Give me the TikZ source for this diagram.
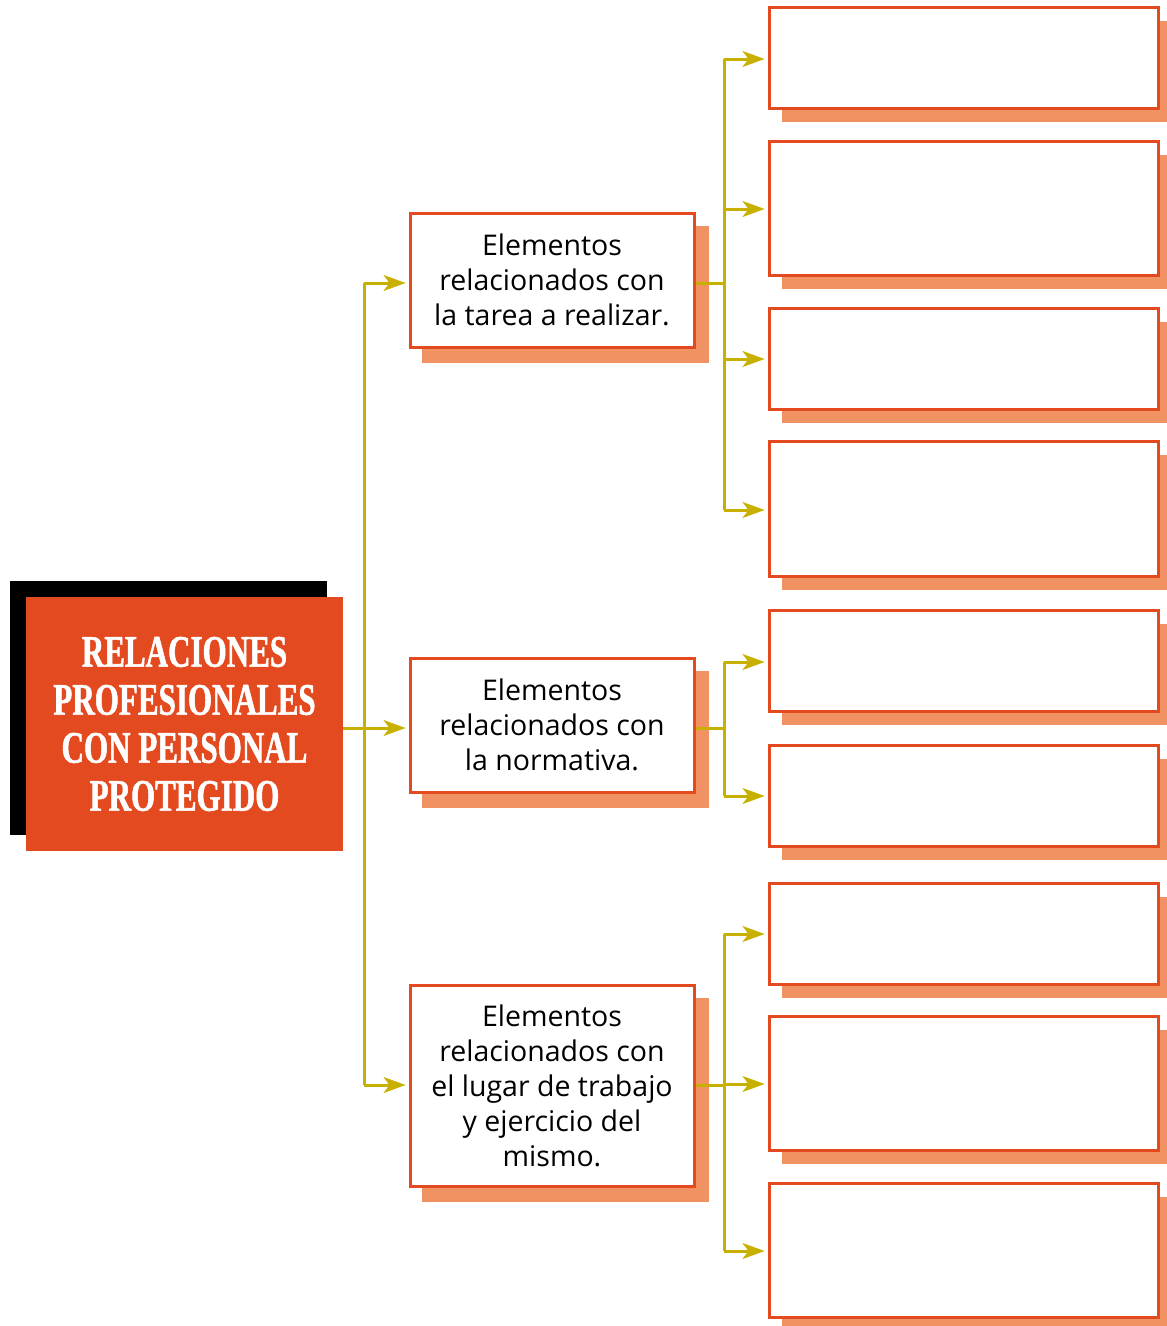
\documentclass[tikz,border=0pt]{standalone}
\usepackage{fontspec}
\setmainfont{Open Sans}
\newfontfamily\titlefont[FakeStretch=0.69,FakeBold=1.2]{Liberation Serif}
\usetikzlibrary{arrows.meta}
\definecolor{boxorange}{HTML}{E34A20}
\definecolor{shadoworange}{HTML}{F09262}
\definecolor{arrowolive}{HTML}{C8B000}
\tikzset{
  box/.style={draw=boxorange, line width=3pt, fill=white, inner sep=0pt, minimum width=#1},
  box/.default=284pt,
  midtext/.style={align=center, font=\fontsize{28.5}{35}\selectfont},
  conn/.style={draw=arrowolive, line width=3pt},
  arr/.style={conn, -{Stealth[length=22pt,width=16pt,inset=6pt,fill=arrowolive,line width=0.5pt]}},
}
\newcommand{\shadowof}[1]{\fill[shadoworange] ([shift={(13,14)}]#1.south west) rectangle ([shift={(13,14)}]#1.north east);}
\begin{document}
\begin{tikzpicture}[x=1pt,y=-1pt]
\useasboundingbox (0,0) rectangle (1167,1326);

% title
\fill[black] (10,581) rectangle (327,835);
\node[fill=boxorange, minimum width=317pt, minimum height=254pt, inner sep=0pt,
  text=white, align=center, font=\titlefont\bfseries\fontsize{45}{48}\selectfont] (title) at (184.5,724)
  {RELACIONES\\PROFESIONALES\\CON PERSONAL\\PROTEGIDO};

% middle boxes (shadow first)
\coordinate (m1c) at (552,280);
\coordinate (m2c) at (552,725);
\coordinate (m3c) at (552,1085.5);

\node[box, minimum height=134pt, draw=none, fill=none] (m1s) at (m1c) {};
\node[box, minimum height=134pt, draw=none, fill=none] (m2s) at (m2c) {};
\node[box, minimum height=201pt, draw=none, fill=none] (m3s) at (m3c) {};
\shadowof{m1s}
\shadowof{m2s}
\shadowof{m3s}
\node[box, minimum height=134pt, midtext] (m1) at (m1c) {Elementos\\relacionados con\\la tarea a realizar.};
\node[box, minimum height=134pt, midtext] (m2) at (m2c) {Elementos\\relacionados con\\la normativa.};
\node[box, minimum height=201pt, midtext] (m3) at (m3c) {Elementos\\relacionados con\\el lugar de trabajo\\y ejercicio del\\mismo.};

% right boxes
\foreach \n/\ya/\yb in {r1/7/108, r2/141/275, r3/308/409, r4/441/576, r5/610/711, r6/745/846, r7/883/984, r8/1016/1150, r9/1183/1317}{
  \fill[shadoworange] (782,\ya+14) rectangle (1171,\yb+14);
}
\foreach \n/\ya/\yb in {r1/7/108, r2/141/275, r3/308/409, r4/441/576, r5/610/711, r6/745/846, r7/883/984, r8/1016/1150, r9/1183/1317}{
  \pgfmathsetmacro{\h}{\yb-\ya}
  \node[box=389pt, minimum height=\h pt] (\n) at (963.5,{(\ya+\yb)/2}) {};
}

% connectors: title to middle boxes
\coordinate (t1) at (364,283);
\coordinate (t2) at (364,728);
\coordinate (t3) at (364,1085);
\draw[conn] (t1) -- (t3);
\draw[arr] (title.east |- t2) -- ([xshift=-3pt]m2.west |- t2);
\draw[arr] (t1) -- ([xshift=-3pt]m1.west |- t1);
\draw[arr] (t3) -- ([xshift=-3pt]m3.west |- t3);

% branch 1
\coordinate (b1) at (724,283);
\draw[conn] (m1.east |- b1) -- (b1);
\draw[conn] (724,59) -- (724,510);
\foreach \n/\y in {r1/59, r2/209, r3/359, r4/510}{
  \draw[arr] (724,\y) -- ([xshift=-3pt]\n.west |- {(0,\y)});
}
% branch 2
\coordinate (b2) at (724,728);
\draw[conn] (m2.east |- b2) -- (b2);
\draw[conn] (724,662) -- (724,796);
\foreach \n/\y in {r5/662, r6/796}{
  \draw[arr] (724,\y) -- ([xshift=-3pt]\n.west |- {(0,\y)});
}
% branch 3
\coordinate (b3) at (724,1085);
\draw[conn] (m3.east |- b3) -- (b3);
\draw[conn] (724,934) -- (724,1251);
\foreach \n/\y in {r7/934, r8/1084, r9/1251}{
  \draw[arr] (724,\y) -- ([xshift=-3pt]\n.west |- {(0,\y)});
}
\end{tikzpicture}
\end{document}
